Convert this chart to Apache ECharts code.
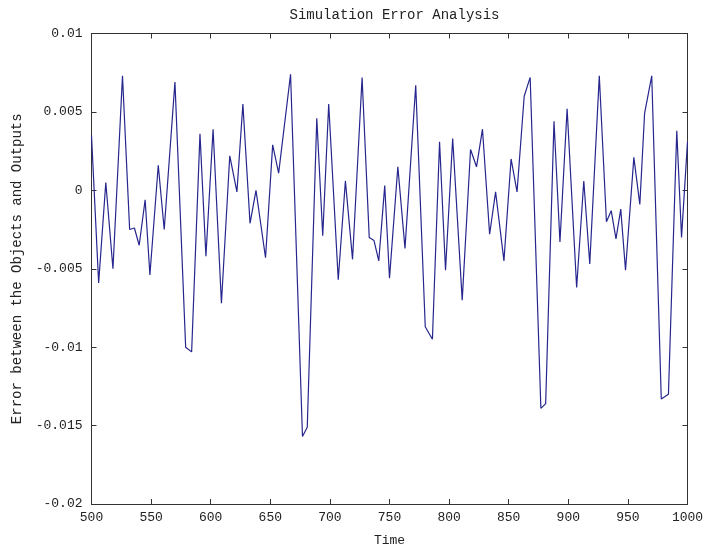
<!DOCTYPE html>
<html>
<head>
<meta charset="utf-8">
<script src="https://cdn.jsdelivr.net/npm/echarts@6/dist/echarts.min.js"></script>
<style>
html,body{margin:0;padding:0;background:#fff;}
#chart{width:704px;height:547px;}
</style>
</head>
<body>
<div id="chart"></div>
<script>
var times = [500, 506, 512, 518, 526, 532, 536, 540, 545, 549, 556, 561, 570, 579, 584, 591, 596, 602, 609, 616, 622, 627, 633, 638, 646, 652, 657, 667, 677, 681, 689, 694, 699, 707, 713, 719, 727, 733, 737, 741, 746, 750, 757, 763, 772, 780, 786, 792, 797, 803, 811, 818, 823, 828, 834, 839, 846, 852, 857, 863, 868, 877, 881, 888, 893, 899, 907, 913, 918, 926, 932, 936, 940, 944, 948, 955, 960, 964, 970, 978, 984, 991, 995, 1000];
var errors = [0.0035, -0.0059, 0.0005, -0.0050, 0.0073, -0.0025, -0.0024, -0.0035, -0.0006, -0.0054, 0.0016, -0.0025, 0.0069, -0.0100, -0.0103, 0.0036, -0.0042, 0.0039, -0.0072, 0.0022, -0.0001, 0.0055, -0.0021, 0.0000, -0.0043, 0.0029, 0.0011, 0.0074, -0.0157, -0.0151, 0.0046, -0.0029, 0.0055, -0.0057, 0.0006, -0.0044, 0.0072, -0.0030, -0.0032, -0.0045, 0.0003, -0.0056, 0.0015, -0.0037, 0.0067, -0.0087, -0.0095, 0.0031, -0.0051, 0.0033, -0.0070, 0.0026, 0.0015, 0.0039, -0.0028, -0.0001, -0.0045, 0.0020, -0.0001, 0.0060, 0.0072, -0.0139, -0.0136, 0.0044, -0.0033, 0.0052, -0.0062, 0.0006, -0.0047, 0.0073, -0.0020, -0.0013, -0.0031, -0.0012, -0.0051, 0.0021, -0.0009, 0.0049, 0.0073, -0.0133, -0.0130, 0.0038, -0.0030, 0.0031];
var xTicks = {min: 500, max: 1000, step: 50};
var yTicks = {min: -0.02, max: 0.01, step: 0.005};
var titleText = 'Simulation Error Analysis';
var xName = 'Time';
var yName = 'Error between the Objects and Outputs';

var data = times.map(function (t, i) { return [t, errors[i]]; });
var font = 'Liberation Mono';
var axisColor = '#333';
var textColor = '#222';
function fmtY(v) { var r = parseFloat(v.toFixed(4)); return String(r); }
function fmtX(v) { return String(Math.round(v)); }

var chart = echarts.init(document.getElementById('chart'), null, {renderer: 'canvas'});
chart.setOption({
  animation: false,
  backgroundColor: '#fff',
  title: {
    text: titleText,
    left: 389.5,
    textAlign: 'center',
    top: 3,
    textStyle: {fontFamily: font, fontSize: 14, fontWeight: 'normal', color: textColor}
  },
  grid: {left: 91.5, right: 16.5, top: 33.5, bottom: 43, containLabel: false, outerBoundsMode: 'none'},
  xAxis: [{
    type: 'value', min: xTicks.min, max: xTicks.max, interval: xTicks.step,
    name: xName, nameLocation: 'middle', nameGap: 30,
    nameTextStyle: {fontFamily: font, fontSize: 13, color: textColor},
    axisLine: {show: true, onZero: false, lineStyle: {color: axisColor, width: 1}},
    axisTick: {show: true, inside: true, length: 5, lineStyle: {color: axisColor}},
    axisLabel: {fontFamily: font, fontSize: 13, color: textColor, margin: 7, formatter: fmtX, showMinLabel: true, showMaxLabel: true},
    splitLine: {show: false}
  }, {
    type: 'value', position: 'top', min: xTicks.min, max: xTicks.max, interval: xTicks.step,
    axisLine: {show: true, onZero: false, lineStyle: {color: axisColor, width: 1}},
    axisTick: {show: true, inside: true, length: 5, lineStyle: {color: axisColor}},
    axisLabel: {show: false},
    splitLine: {show: false}
  }],
  yAxis: [{
    type: 'value', min: yTicks.min, max: yTicks.max, interval: yTicks.step,
    name: yName, nameLocation: 'middle', nameGap: 64, nameRotate: 90,
    nameTextStyle: {fontFamily: font, fontSize: 14, color: textColor},
    axisLine: {show: true, onZero: false, lineStyle: {color: axisColor, width: 1}},
    axisTick: {show: true, inside: true, length: 5, lineStyle: {color: axisColor}},
    axisLabel: {fontFamily: font, fontSize: 13, color: textColor, margin: 9, formatter: fmtY, showMinLabel: true, showMaxLabel: true},
    splitLine: {show: false}
  }, {
    type: 'value', position: 'right', min: yTicks.min, max: yTicks.max, interval: yTicks.step,
    axisLine: {show: true, onZero: false, lineStyle: {color: axisColor, width: 1}},
    axisTick: {show: true, inside: true, length: 5, lineStyle: {color: axisColor}},
    axisLabel: {show: false},
    splitLine: {show: false}
  }],
  series: [{
    type: 'line',
    data: data,
    xAxisIndex: 0, yAxisIndex: 0,
    showSymbol: false,
    lineStyle: {color: '#26268e', width: 1.2},
    itemStyle: {color: '#26268e'}
  }]
});
</script>
</body>
</html>
